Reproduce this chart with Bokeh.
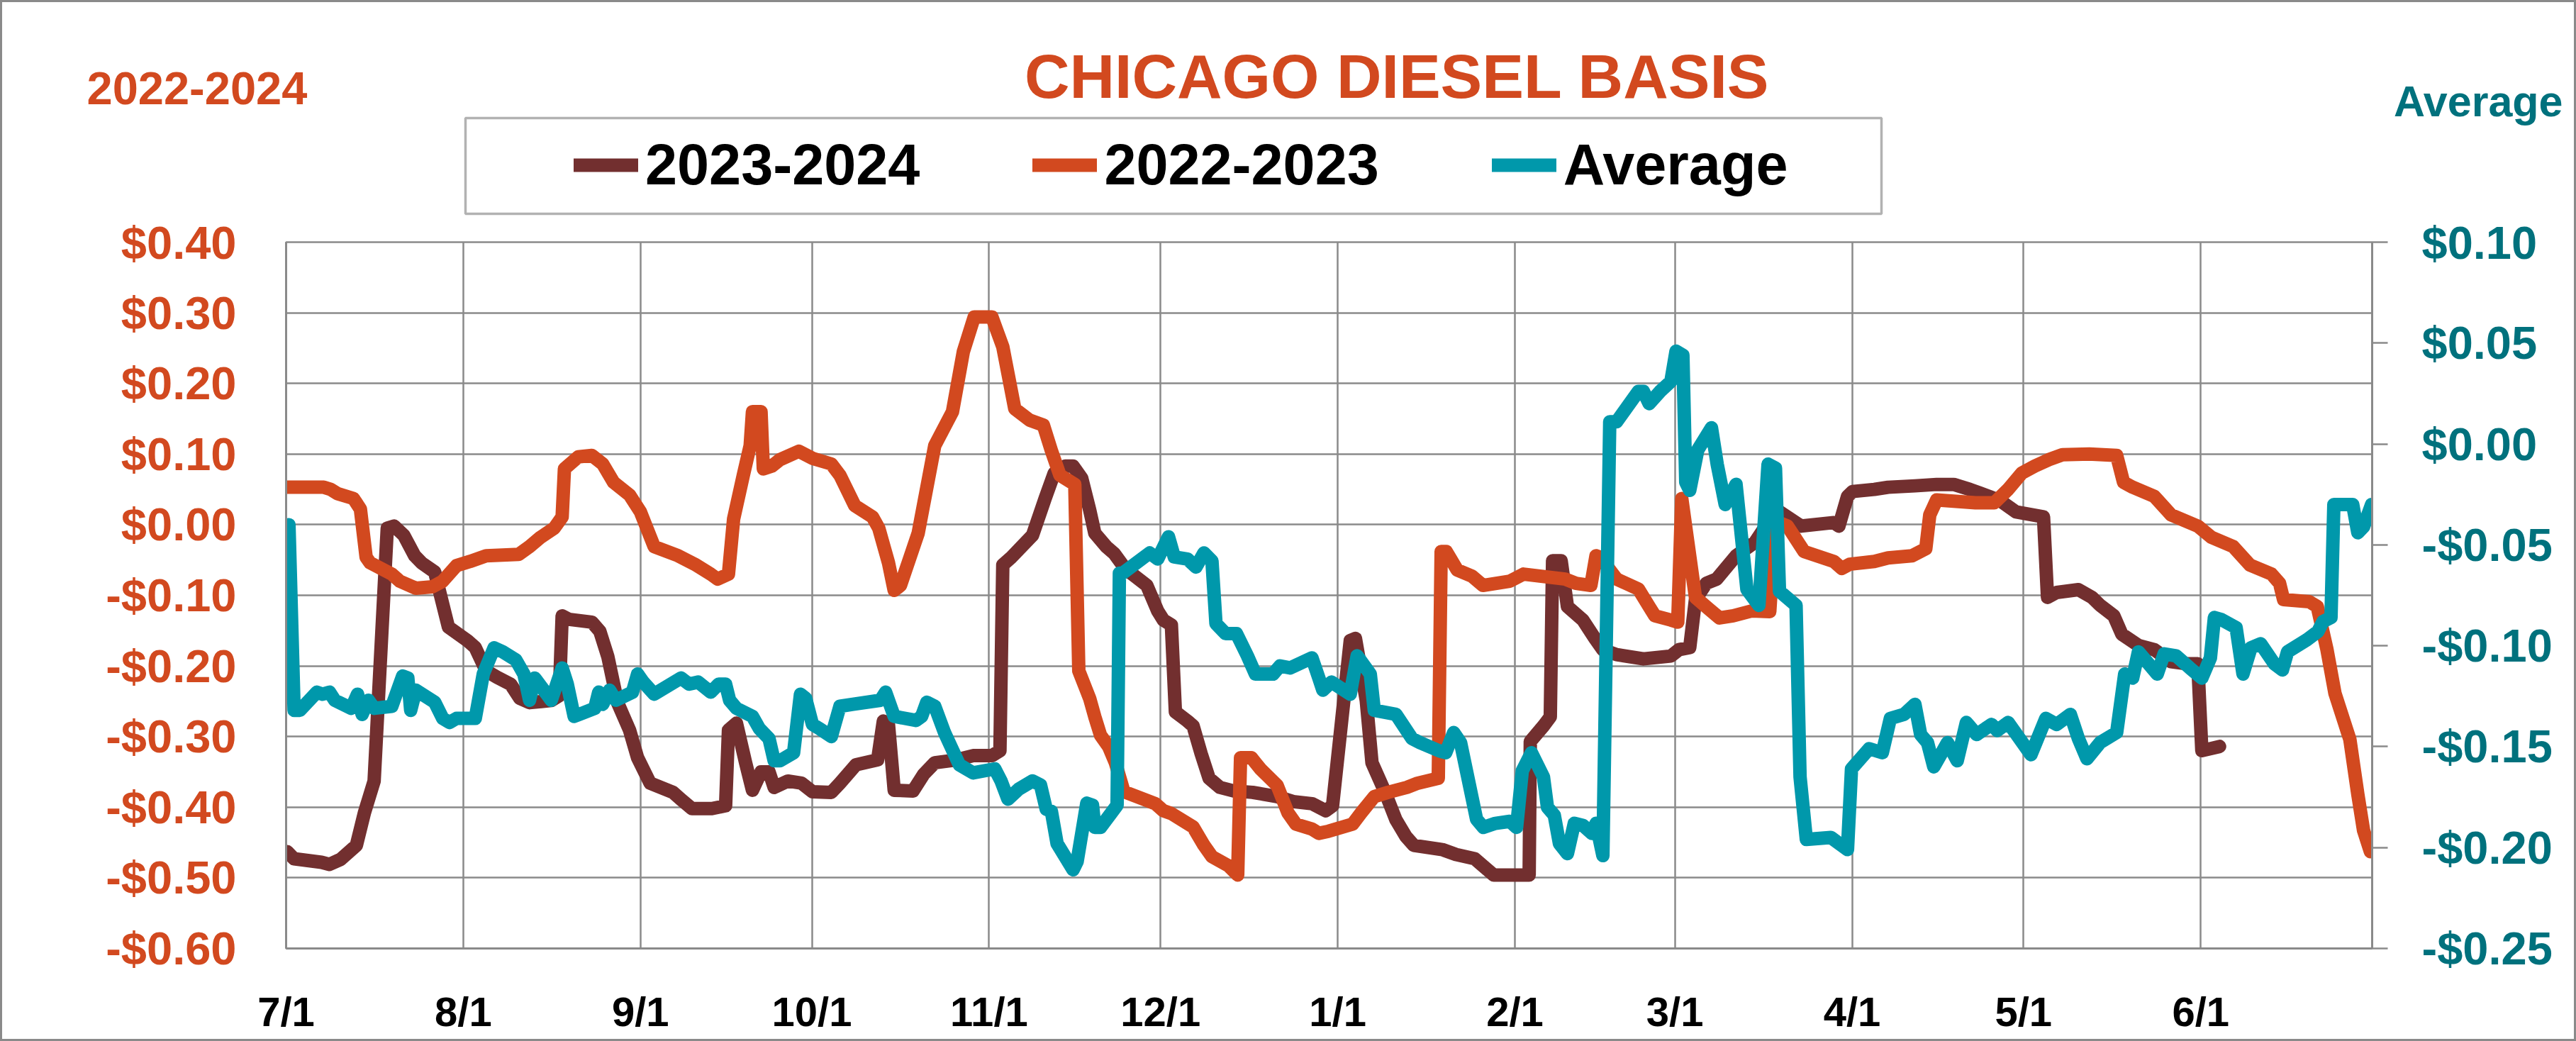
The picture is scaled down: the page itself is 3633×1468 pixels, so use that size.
from bokeh.plotting import figure
from bokeh.layouts import column
from bokeh.models import Range1d, LinearAxis, FixedTicker, Label, Legend, LegendItem, BoxAnnotation
from bokeh.embed import file_html
from bokeh.resources import INLINE

# ---------------- data ----------------
TITLE = "CHICAGO DIESEL BASIS"
LEFT_AXIS_NAME = "2022-2024"
RIGHT_AXIS_NAME = "Average"
SERIES_NAMES = ["2023-2024", "2022-2023", "Average"]

# x = days since 7/1
MONTH_DAYS = [0, 31, 62, 92, 123, 153, 184, 215, 243, 274, 304, 335]
MONTH_LABELS = ["7/1", "8/1", "9/1", "10/1", "11/1", "12/1", "1/1", "2/1", "3/1", "4/1", "5/1", "6/1"]
LEFT_TICKS = [-0.6, -0.5, -0.4, -0.3, -0.2, -0.1, 0.0, 0.1, 0.2, 0.3, 0.4]
LEFT_LABELS = ["-$0.60", "-$0.50", "-$0.40", "-$0.30", "-$0.20", "-$0.10", "$0.00",
               "$0.10", "$0.20", "$0.30", "$0.40"]
RIGHT_TICKS = [-0.25, -0.2, -0.15, -0.1, -0.05, 0.0, 0.05, 0.1]
RIGHT_LABELS = ["-$0.25", "-$0.20", "-$0.15", "-$0.10", "-$0.05", "$0.00", "$0.05", "$0.10"]

S_2023_2024 = [
    (0.2, -0.463), (1.4, -0.473), (6.2, -0.478), (7.6, -0.481), (9.5, -0.474), (12.3, -0.454),
    (13.7, -0.408), (15.4, -0.363), (17.7, -0.005), (18.9, -0.002), (20.6, -0.015), (22.5, -0.044),
    (23.7, -0.054), (26.0, -0.067), (28.4, -0.145), (31.7, -0.164), (33.1, -0.174), (35.0, -0.207),
    (36.9, -0.216), (39.3, -0.226), (40.9, -0.246), (42.6, -0.252), (46.4, -0.249), (47.8, -0.242),
    (48.3, -0.129), (49.5, -0.134), (53.5, -0.138), (54.9, -0.151), (56.3, -0.187), (58.0, -0.252),
    (60.1, -0.291), (61.5, -0.330), (63.7, -0.366), (67.7, -0.379), (69.1, -0.389), (71.0, -0.402),
    (74.5, -0.402), (76.9, -0.398), (77.4, -0.291), (78.8, -0.281), (80.4, -0.337), (81.6, -0.376),
    (83.1, -0.350), (84.5, -0.350), (85.4, -0.372), (87.8, -0.363), (90.2, -0.366), (92.1, -0.378),
    (95.4, -0.379), (96.9, -0.366), (99.7, -0.340), (103.5, -0.333), (104.5, -0.278), (105.4, -0.283),
    (106.4, -0.376), (109.7, -0.377), (111.6, -0.353), (113.5, -0.337), (117.3, -0.333), (120.2, -0.327),
    (123.5, -0.327), (124.9, -0.320), (125.4, -0.057), (126.8, -0.047), (130.6, -0.015), (132.8, 0.037),
    (134.4, 0.073), (136.3, 0.083), (137.7, 0.083), (139.2, 0.066), (140.6, 0.021), (141.5, -0.012),
    (143.5, -0.031), (144.9, -0.041), (146.8, -0.062), (150.6, -0.086), (152.5, -0.122), (153.5, -0.135),
    (154.9, -0.142), (155.6, -0.265), (157.7, -0.278), (158.7, -0.285), (160.1, -0.324), (161.5, -0.359),
    (163.4, -0.372), (165.8, -0.377), (169.1, -0.379), (173.4, -0.385), (176.2, -0.392), (179.5, -0.395),
    (181.9, -0.405), (183.1, -0.398), (186.2, -0.164), (187.1, -0.161), (189.0, -0.249), (190.0, -0.337),
    (192.3, -0.379), (194.2, -0.418), (195.9, -0.441), (197.3, -0.454), (202.3, -0.460), (204.7, -0.467),
    (208.0, -0.473), (209.4, -0.483), (211.3, -0.496), (217.5, -0.496), (217.7, -0.307), (220.0, -0.285),
    (221.2, -0.272), (221.6, -0.051), (223.1, -0.051), (224.2, -0.116), (226.9, -0.135), (229.0, -0.161),
    (230.4, -0.177), (232.8, -0.184), (237.5, -0.190), (242.3, -0.186), (243.7, -0.177), (245.6, -0.174),
    (246.6, -0.106), (248.5, -0.083), (250.3, -0.077), (253.7, -0.044), (257.0, -0.025), (260.8, 0.021),
    (265.1, -0.002), (270.8, 0.003), (271.7, -0.002), (273.2, 0.040), (274.1, 0.047), (277.9, 0.050),
    (280.3, 0.053), (285.0, 0.055), (288.8, 0.057), (291.8, 0.057), (294.6, 0.050), (298.0, 0.040),
    (299.9, 0.034), (302.7, 0.018), (307.5, 0.011), (308.2, -0.103), (309.8, -0.096), (313.6, -0.092),
    (316.0, -0.103), (317.4, -0.114), (319.8, -0.129), (321.2, -0.155), (324.1, -0.171), (326.9, -0.177),
    (329.8, -0.194), (332.6, -0.197), (334.5, -0.197), (335.2, -0.320), (338.3, -0.314),
]

S_2022_2023 = [
    (0.2, 0.053), (6.6, 0.053), (7.8, 0.050), (9.0, 0.044), (11.8, 0.037), (13.0, 0.022), (14.0, -0.046),
    (14.7, -0.054), (18.5, -0.070), (19.9, -0.080), (22.7, -0.090), (25.6, -0.088), (27.4, -0.080),
    (29.8, -0.058), (32.2, -0.052), (35.0, -0.044), (40.7, -0.042), (42.6, -0.031), (44.5, -0.018),
    (46.9, -0.005), (48.3, 0.011), (48.7, 0.079), (51.1, 0.096), (53.5, 0.098), (55.4, 0.086),
    (57.3, 0.060), (60.1, 0.042), (62.0, 0.018), (64.4, -0.031), (68.6, -0.044), (71.5, -0.056),
    (74.3, -0.070), (75.5, -0.077), (77.4, -0.070), (78.3, 0.008), (80.0, 0.070), (81.2, 0.112),
    (81.6, 0.160), (83.1, 0.160), (83.5, 0.079), (85.0, 0.083), (86.4, 0.092), (89.7, 0.104),
    (92.1, 0.094), (95.4, 0.086), (96.9, 0.070), (99.5, 0.027), (102.6, 0.011), (103.7, -0.005),
    (105.4, -0.054), (106.4, -0.093), (107.5, -0.086), (110.6, -0.012), (113.5, 0.112), (116.6, 0.160),
    (118.5, 0.245), (120.4, 0.294), (123.5, 0.294), (125.4, 0.252), (127.5, 0.164), (130.1, 0.148),
    (132.5, 0.141), (133.9, 0.105), (135.4, 0.070), (138.0, 0.057), (138.7, -0.207), (140.6, -0.246),
    (141.5, -0.272), (142.5, -0.298), (143.9, -0.314), (145.1, -0.337), (146.6, -0.378), (152.1, -0.395),
    (153.5, -0.405), (154.9, -0.409), (158.7, -0.428), (160.6, -0.454), (162.0, -0.470), (164.9, -0.483),
    (166.5, -0.496), (167.0, -0.330), (168.9, -0.330), (170.5, -0.346), (173.4, -0.369), (175.3, -0.408),
    (176.7, -0.424), (179.5, -0.431), (180.7, -0.437), (182.4, -0.434), (186.6, -0.424), (188.1, -0.408),
    (190.4, -0.385), (192.8, -0.379), (196.1, -0.372), (198.0, -0.366), (201.6, -0.359), (202.1, -0.038),
    (203.0, -0.038), (204.9, -0.064), (207.5, -0.073), (209.4, -0.086), (214.1, -0.080), (216.5, -0.070),
    (223.8, -0.077), (225.7, -0.083), (228.3, -0.086), (229.2, -0.044), (229.9, -0.046), (232.8, -0.077),
    (236.6, -0.091), (238.5, -0.116), (239.5, -0.129), (242.3, -0.135), (243.5, -0.138), (244.2, 0.037),
    (246.6, -0.103), (248.9, -0.119), (250.8, -0.132), (253.2, -0.129), (256.5, -0.122), (259.6, -0.123),
    (260.6, 0.005), (262.7, -0.002), (265.6, -0.038), (270.8, -0.052), (272.2, -0.062), (273.6, -0.056),
    (277.9, -0.052), (280.3, -0.047), (284.5, -0.044), (286.9, -0.034), (287.6, 0.014), (288.8, 0.035),
    (295.6, 0.031), (298.9, 0.031), (301.3, 0.050), (303.7, 0.073), (306.0, 0.083), (308.4, 0.092),
    (310.8, 0.099), (315.5, 0.100), (320.3, 0.098), (321.5, 0.060), (323.1, 0.053), (326.9, 0.040),
    (329.8, 0.014), (334.5, -0.002), (336.9, -0.018), (340.7, -0.031), (343.6, -0.057), (347.4, -0.070),
    (348.8, -0.083), (349.5, -0.106), (354.0, -0.109), (355.4, -0.116), (357.1, -0.177), (358.5, -0.239),
    (361.1, -0.304), (362.5, -0.382), (363.5, -0.433), (364.7, -0.463),
]

S_AVERAGE = [
    (0.5, -0.040), (1.4, -0.132), (2.4, -0.132), (5.4, -0.123), (6.4, -0.124), (7.6, -0.123), (8.5, -0.127),
    (11.4, -0.131), (12.5, -0.124), (13.3, -0.134), (14.4, -0.127), (15.4, -0.131), (18.5, -0.130),
    (20.4, -0.115), (21.3, -0.116), (21.8, -0.132), (22.7, -0.122), (26.0, -0.128), (27.4, -0.136),
    (28.6, -0.138), (29.8, -0.136), (33.1, -0.136), (34.5, -0.114), (36.4, -0.101), (37.9, -0.103),
    (40.2, -0.107), (41.6, -0.114), (42.6, -0.127), (43.5, -0.116), (46.4, -0.127), (48.3, -0.111),
    (49.2, -0.119), (50.4, -0.135), (54.0, -0.131), (54.7, -0.123), (55.4, -0.129), (56.6, -0.122),
    (57.7, -0.127), (60.6, -0.123), (61.5, -0.114), (62.5, -0.118), (64.4, -0.124), (69.1, -0.116),
    (70.5, -0.119), (72.1, -0.118), (74.3, -0.123), (75.7, -0.119), (76.9, -0.119), (77.6, -0.127),
    (78.8, -0.131), (81.6, -0.135), (82.8, -0.141), (84.5, -0.146), (85.4, -0.157), (86.4, -0.157),
    (88.8, -0.153), (90.0, -0.124), (90.9, -0.126), (92.1, -0.139), (93.3, -0.141), (95.4, -0.145),
    (96.9, -0.130), (99.2, -0.129), (104.0, -0.127), (104.9, -0.123), (106.4, -0.135), (110.2, -0.137),
    (111.2, -0.135), (112.1, -0.128), (113.5, -0.130), (115.2, -0.143), (117.8, -0.159), (120.2, -0.163),
    (124.0, -0.161), (125.1, -0.167), (126.3, -0.176), (128.2, -0.171), (130.6, -0.167), (132.0, -0.169),
    (133.0, -0.181), (133.9, -0.182), (134.9, -0.198), (137.7, -0.211), (138.4, -0.207), (140.1, -0.178),
    (141.1, -0.179), (141.5, -0.190), (142.5, -0.190), (145.4, -0.179), (145.8, -0.064), (146.4, -0.064),
    (151.1, -0.054), (152.5, -0.057), (154.4, -0.046), (155.4, -0.056), (157.7, -0.057), (159.2, -0.061),
    (160.6, -0.054), (162.0, -0.058), (162.7, -0.089), (164.4, -0.094), (166.3, -0.094), (168.2, -0.105),
    (169.6, -0.114), (172.7, -0.114), (173.9, -0.110), (175.7, -0.111), (179.5, -0.106), (180.7, -0.116),
    (181.4, -0.122), (182.9, -0.118), (186.2, -0.124), (187.4, -0.105), (189.7, -0.114), (190.4, -0.132),
    (194.2, -0.134), (195.6, -0.140), (197.0, -0.146), (198.4, -0.148), (201.7, -0.152), (202.9, -0.153),
    (204.3, -0.143), (205.5, -0.148), (208.3, -0.186), (209.5, -0.190), (211.6, -0.188), (214.1, -0.187),
    (215.3, -0.190), (216.3, -0.162), (217.9, -0.153), (220.0, -0.165), (220.7, -0.180), (221.9, -0.184),
    (222.8, -0.198), (224.2, -0.203), (225.4, -0.188), (226.9, -0.189), (228.5, -0.193), (229.2, -0.188),
    (230.4, -0.204), (231.6, 0.011), (232.8, 0.011), (236.6, 0.026), (237.5, 0.026), (238.5, 0.020),
    (240.4, 0.026), (242.3, 0.031), (243.2, 0.046), (244.4, 0.044), (244.9, -0.019), (245.6, -0.023),
    (247.0, -0.003), (249.4, 0.008), (250.4, -0.010), (251.8, -0.030), (253.7, -0.020), (255.6, -0.072),
    (257.7, -0.080), (259.3, -0.010), (260.6, -0.012), (261.3, -0.073), (264.2, -0.080), (264.9, -0.165),
    (266.0, -0.196), (270.3, -0.195), (273.2, -0.201), (273.9, -0.161), (277.0, -0.151), (279.3, -0.153),
    (280.7, -0.136), (283.1, -0.134), (285.0, -0.129), (286.0, -0.144), (287.2, -0.148), (288.3, -0.160),
    (290.7, -0.148), (292.4, -0.157), (294.0, -0.138), (295.8, -0.144), (298.4, -0.139), (299.4, -0.142),
    (301.3, -0.138), (305.3, -0.154), (307.9, -0.136), (309.8, -0.139), (312.2, -0.134), (313.6, -0.146),
    (315.1, -0.156), (317.4, -0.148), (320.3, -0.143), (321.7, -0.114), (323.1, -0.116), (324.1, -0.103),
    (327.4, -0.114), (328.6, -0.104), (330.7, -0.105), (333.1, -0.111), (335.2, -0.116), (336.7, -0.106),
    (337.4, -0.086), (338.6, -0.087), (341.2, -0.091), (342.4, -0.114), (343.8, -0.101), (345.5, -0.099),
    (347.9, -0.109), (349.3, -0.112), (350.2, -0.103), (353.6, -0.097), (355.5, -0.093), (356.4, -0.088),
    (357.8, -0.086), (358.3, -0.030), (360.2, -0.030), (361.6, -0.030), (362.5, -0.044), (363.5, -0.041),
    (364.9, -0.030),
]

# ---------------- style ----------------
ORANGE = "#D2491F"
BROWN = "#722F2F"
TEAL = "#0098AB"
TEAL_DARK = "#00717D"
GRID = "#8A8A8A"
FONT = "Liberation Sans"
LW = 19
OFF = 3                      # outer border width (page itself has no margin)

W, H = 3627, 1462            # inside the outer border
HH = 302                     # header strip height
MH = H - HH                  # main figure height
FL, FR, FT, FB = 403 - OFF, 3345 - OFF, 341 - OFF, 1337 - OFF   # plot frame

def xy(pairs):
    return [a for a, _ in pairs], [b for _, b in pairs]

x1, y1 = xy(S_2023_2024)
x2, y2 = xy(S_2022_2023)
x3, y3 = xy(S_AVERAGE)

# ================= header (title, legend, axis names) =================
hd = figure(width=W, height=HH, output_backend="svg", toolbar_location=None,
            x_range=Range1d(0, W), y_range=Range1d(HH, 0),
            x_axis_type=None, y_axis_type=None, min_border=0)
hd.outline_line_color = None
hd.background_fill_color = "white"
hd.border_fill_color = "white"
hd.xgrid.visible = False
hd.ygrid.visible = False

# hidden copies of the series, used only for legend swatches
proxies = [hd.line(x=xs, y=ys, line_color=c, line_width=LW, line_cap="round", visible=False)
           for xs, ys, c in ((x1, y1, BROWN), (x2, y2, ORANGE), (x3, y3, TEAL))]

hd.add_layout(BoxAnnotation(left=656 - OFF, right=2653 - OFF, top=166 - OFF, bottom=301 - OFF,
                            fill_alpha=0, line_color="black", line_width=3.5))

legend = Legend(items=[LegendItem(label=n, renderers=[r]) for n, r in zip(SERIES_NAMES, proxies)],
                location=(809 - OFF, HH - (233 - OFF) - 46), orientation="horizontal",
                padding=0, spacing=159, margin=0,
                glyph_width=91, glyph_height=93, label_height=93, label_standoff=10,
                label_text_font=FONT, label_text_font_style="bold",
                label_text_font_size="81px", label_text_color="black",
                border_line_alpha=0, background_fill_alpha=0,
                inactive_fill_alpha=0)
hd.add_layout(legend)

# texts positioned by the vertical centre of their capitals
hd.add_layout(Label(x=1970 - OFF, y=107 - OFF, text=TITLE,
                    text_align="center", text_baseline="middle",
                    text_font=FONT, text_font_style="bold",
                    text_font_size="88px", text_color=ORANGE))
hd.add_layout(Label(x=122 - OFF, y=124 - OFF, text=LEFT_AXIS_NAME,
                    text_align="left", text_baseline="middle",
                    text_font=FONT, text_font_style="bold",
                    text_font_size="65px", text_color=ORANGE))
hd.add_layout(Label(x=3614 - OFF, y=142 - OFF, text=RIGHT_AXIS_NAME,
                    text_align="right", text_baseline="middle",
                    text_font=FONT, text_font_style="bold",
                    text_font_size="61px", text_color=TEAL_DARK))

# ================= main chart =================
p = figure(width=W, height=MH, output_backend="svg", toolbar_location=None,
           x_range=Range1d(0, 365), y_range=Range1d(-0.6, 0.4),
           min_border_left=FL, min_border_right=W - FR,
           min_border_top=FT - HH, min_border_bottom=H - FB)
p.extra_y_ranges = {"avg": Range1d(-0.25, 0.10)}
p.background_fill_color = "white"
p.border_fill_color = "white"
p.outline_line_color = GRID
p.outline_line_width = 2.5

for f in (hd, p):
    if "frame_align" in f.properties():
        f.frame_align = False

xa = p.xaxis[0]
xa.ticker = FixedTicker(ticks=MONTH_DAYS)
xa.major_label_overrides = dict(zip(MONTH_DAYS, MONTH_LABELS))
xa.major_tick_in = 0
xa.major_tick_out = 0
xa.minor_tick_line_color = None
xa.axis_line_color = GRID
xa.axis_line_width = 3
xa.major_label_text_font = FONT
xa.major_label_text_font_style = "bold"
xa.major_label_text_font_size = "58px"
xa.major_label_text_color = "black"
xa.major_label_standoff = 56

ya = p.yaxis[0]
ya.ticker = FixedTicker(ticks=LEFT_TICKS)
ya.major_label_overrides = dict(zip(LEFT_TICKS, LEFT_LABELS))
ya.major_tick_in = 0
ya.major_tick_out = 0
ya.minor_tick_line_color = None
ya.axis_line_color = GRID
ya.axis_line_width = 3
ya.major_label_text_font = FONT
ya.major_label_text_font_style = "bold"
ya.major_label_text_font_size = "65px"
ya.major_label_text_color = ORANGE
ya.major_label_standoff = 70

ra = LinearAxis(y_range_name="avg", ticker=FixedTicker(ticks=RIGHT_TICKS))
ra.major_label_overrides = dict(zip(RIGHT_TICKS, RIGHT_LABELS))
ra.major_tick_in = 0
ra.major_tick_out = 22
ra.major_tick_line_color = GRID
ra.major_tick_line_width = 2.5
ra.minor_tick_line_color = None
ra.axis_line_color = GRID
ra.axis_line_width = 3
ra.major_label_text_font = FONT
ra.major_label_text_font_style = "bold"
ra.major_label_text_font_size = "65px"
ra.major_label_text_color = TEAL_DARK
ra.major_label_standoff = 48
p.add_layout(ra, "right")

p.xgrid.ticker = FixedTicker(ticks=MONTH_DAYS)
p.ygrid.ticker = FixedTicker(ticks=LEFT_TICKS)
for g in (p.xgrid[0], p.ygrid[0]):
    g.grid_line_color = GRID
    g.grid_line_width = 2.5

p.line(x1, y1, line_color=BROWN, line_width=LW, line_join="round", line_cap="round")
p.line(x2, y2, line_color=ORANGE, line_width=LW, line_join="round", line_cap="round")
p.line(x3, y3, line_color=TEAL, line_width=LW, line_join="round", line_cap="round",
       y_range_name="avg")

layout = column(hd, p, spacing=0, styles={"border": "3px solid #8A8A8A", "background": "white"})

open("out.html", "w").write(file_html(layout, INLINE))
